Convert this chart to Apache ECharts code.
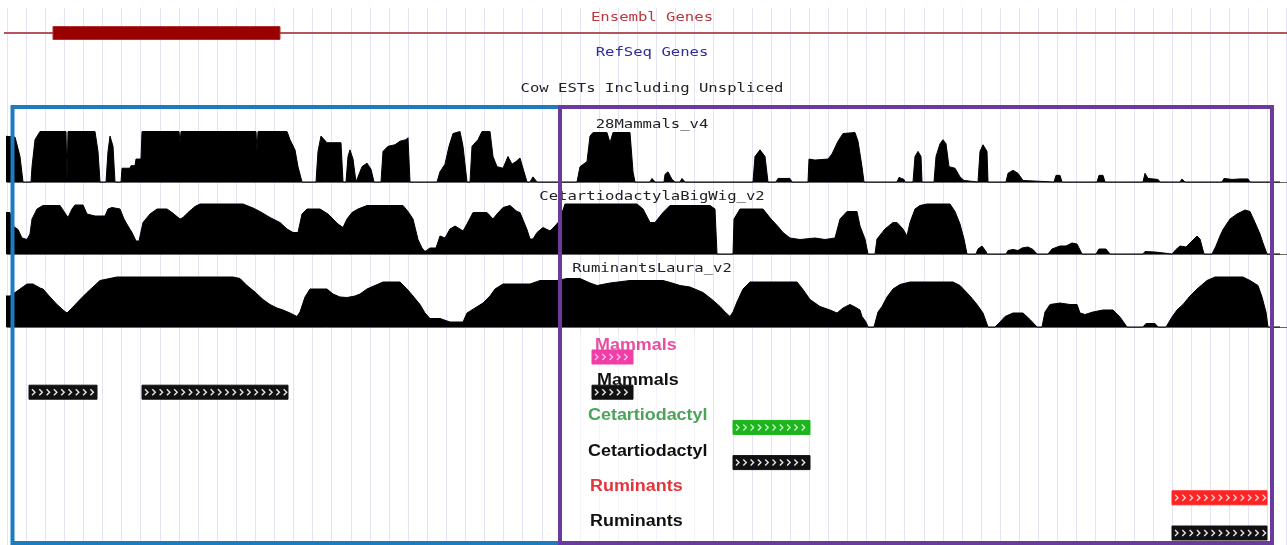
<!DOCTYPE html>
<html><head><meta charset="utf-8">
<script src="https://cdn.jsdelivr.net/npm/echarts@6.0.0/dist/echarts.min.js"></script>
<style>html,body{margin:0;padding:0;background:#fff;} #c{width:1287px;height:545px;}</style>
</head><body><div id="c"></div>
<script>
// ---- data (positions on the browser's genomic axis, scores in %) ----
const topTitles = ['Ensembl Genes', 'RefSeq Genes', 'Cow ESTs Including Unspliced'];
const trackNames = ['28Mammals_v4', 'CetartiodactylaBigWig_v2', 'RuminantsLaura_v2'];

const ensemblSpan = [4, 1287];
const ensemblExons = [[53, 280]];

const mammals28 = [[4,90],[15,88],[20,50],[23,0],[31,0],[32,30],[35,83],[40,99],[66,99],[67,5],[68,99],[95,99],[98,60],[100,0],[106,0],[108,60],[110,90],[113,70],[115,0],[121,0],[122,27],[130,27],[131,32],[135,32],[136,45],[141,45],[142,99],[179,99],[180,77],[181,99],[256,99],[257,60],[258,99],[287,99],[290,83],[295,63],[298,30],[302,0],[316,0],[318,60],[321,90],[323,92],[327,77],[341,77],[343,0],[346,0],[348,50],[350,63],[353,45],[356,0],[358,0],[362,30],[367,37],[371,25],[374,0],[381,0],[383,60],[388,70],[395,73],[400,80],[406,83],[408,87],[410,0],[437,0],[440,20],[445,35],[449,70],[453,95],[460,99],[463,70],[467,0],[470,0],[472,70],[478,83],[482,99],[490,99],[493,50],[497,30],[503,27],[508,50],[512,35],[516,40],[520,47],[524,20],[527,0],[530,0],[533,10],[537,0],[542,0],[543,3],[545,0],[577,0],[580,30],[587,40],[590,90],[593,97],[607,97],[610,77],[613,97],[630,97],[633,20],[635,0],[650,0],[652,7],[655,0],[664,0],[665,15],[668,20],[672,5],[675,0],[680,0],[682,7],[685,0],[712,0],[713,3],[714,0],[753,0],[755,50],[760,63],[765,50],[768,0],[776,0],[778,7],[790,7],[792,0],[808,0],[809,45],[815,43],[828,45],[832,55],[838,80],[843,95],[855,97],[858,80],[862,30],[864,0],[897,0],[899,9],[904,5],[905,0],[913,0],[915,50],[918,60],[921,50],[922,0],[934,0],[936,50],[940,75],[943,83],[946,75],[949,30],[955,27],[960,10],[964,3],[965,0],[978,0],[980,60],[983,73],[987,60],[988,0],[1006,0],[1008,17],[1013,23],[1018,17],[1023,3],[1025,0],[1054,0],[1056,13],[1060,13],[1062,0],[1076,0],[1078,3],[1081,0],[1097,0],[1099,13],[1103,13],[1105,0],[1143,0],[1145,17],[1148,7],[1158,5],[1160,0],[1180,0],[1182,6],[1185,0],[1222,0],[1224,7],[1232,5],[1240,6],[1248,6],[1250,0],[1280,0]];

const cetartiodactyla = [[4,83],[10,83],[13,56],[18,49],[22,32],[27,29],[30,40],[32,70],[37,90],[43,97],[60,97],[64,85],[68,73],[72,90],[75,98],[83,98],[87,80],[95,76],[105,76],[108,90],[112,93],[120,90],[124,70],[128,56],[132,43],[136,26],[139,26],[143,63],[150,80],[157,90],[167,90],[172,83],[180,70],[183,73],[188,83],[195,95],[200,100],[243,100],[253,92],[260,85],[270,73],[280,63],[287,50],[293,43],[298,43],[302,80],[307,90],[320,90],[328,80],[333,70],[338,60],[343,53],[347,70],[352,83],[358,90],[367,97],[403,97],[408,85],[413,70],[418,29],[422,12],[425,5],[430,12],[436,12],[440,36],[445,32],[450,50],[455,56],[460,50],[463,46],[467,60],[473,83],[487,83],[493,70],[497,80],[503,93],[510,97],[517,85],[520,83],[527,49],[530,30],[533,30],[537,43],[543,53],[550,46],[555,56],[558,63],[560,70],[565,100],[637,100],[643,90],[650,63],[655,63],[663,83],[670,97],[710,97],[715,90],[717,0],[733,0],[734,70],[740,90],[763,90],[771,70],[778,55],[783,43],[790,32],[800,29],[815,32],[825,29],[835,32],[840,70],[847,85],[857,85],[860,56],[865,30],[868,0],[875,0],[877,30],[885,50],[893,63],[897,63],[903,50],[907,36],[910,63],[915,90],[920,97],[927,100],[950,100],[955,85],[960,60],[964,30],[967,0],[976,0],[978,10],[982,16],[986,5],[987,0],[1006,0],[1008,7],[1013,9],[1018,7],[1022,12],[1028,14],[1033,9],[1037,0],[1048,0],[1052,10],[1060,16],[1066,16],[1072,22],[1077,20],[1082,0],[1096,0],[1099,10],[1106,10],[1110,0],[1143,0],[1145,5],[1155,4],[1157,0],[1172,0],[1176,9],[1180,16],[1186,14],[1192,26],[1197,36],[1200,30],[1204,0],[1212,0],[1216,16],[1220,36],[1223,49],[1230,70],[1237,80],[1245,88],[1250,85],[1255,63],[1260,40],[1263,22],[1267,0],[1280,0]];

const ruminants = [[4,62],[10,62],[13,66],[20,76],[27,86],[33,86],[40,78],[43,76],[50,60],[57,45],[63,34],[67,28],[72,38],[80,55],[87,69],[93,80],[100,93],[117,100],[233,100],[240,97],[247,83],[255,70],[263,55],[270,45],[277,38],[283,34],[290,28],[297,21],[300,30],[305,60],[310,76],[327,76],[333,66],[340,60],[347,59],[355,62],[360,66],[367,76],[375,83],[383,90],[400,90],[407,76],[413,62],[420,45],[425,28],[430,17],[440,17],[450,10],[463,10],[467,28],[475,38],[483,48],[490,62],[495,76],[503,86],[530,86],[540,93],[557,93],[567,97],[580,97],[590,88],[597,83],[610,88],[630,93],[663,93],[672,88],[680,83],[690,80],[703,69],[712,55],[720,41],[725,30],[730,21],[733,30],[737,50],[743,76],[750,90],[797,90],[803,75],[810,55],[820,41],[830,34],[837,28],[843,38],[850,45],[855,40],[860,34],[862,21],[866,10],[868,0],[874,0],[878,30],[882,41],[887,60],[893,76],[900,85],[910,90],[953,90],[960,83],[970,62],[977,45],[983,28],[988,0],[995,0],[1000,10],[1005,21],[1013,28],[1023,28],[1030,15],[1037,0],[1042,0],[1045,30],[1050,45],[1060,48],[1070,45],[1077,45],[1080,28],[1085,25],[1093,30],[1103,34],[1113,34],[1120,20],[1127,0],[1143,0],[1146,7],[1155,7],[1158,0],[1166,0],[1172,20],[1177,34],[1183,45],[1190,62],[1197,76],[1207,93],[1215,100],[1243,100],[1250,93],[1258,83],[1262,60],[1266,30],[1268,0],[1280,0]];

const rowNames = ['Mammals', 'Mammals', 'Cetartiodactyl', 'Cetartiodactyl', 'Ruminants', 'Ruminants'];
const rowLabelStart = [595, 597, 588, 588, 590, 590];
// [row, start, end]
const featureBlocks = [[0,592,633],[1,29,97],[1,142,288],[1,592,633],[2,733,810],[3,733,810],[4,1172,1267],[5,1172,1267]];
// highlighted regions [start, end]
const highlightRegions = [[12.5, 560], [560, 1272]];

// ---- styles ----
const labelColors = ['#e84d9f', '#111111', '#4da35a', '#111111', '#e2343b', '#111111'];
const barColors = ['#f03ea6', '#111111', '#1db41d', '#111111', '#ff2424', '#111111'];
const chevColors = ['#ffc0e2', '#e6e6e6', '#c4f5c4', '#e6e6e6', '#ffd0d0', '#e6e6e6'];
const frameColors = ['#1f7bbf', '#6a3a9c'];
const titleColors = ['#b8383f', '#2e2e9a', '#222222'];

const chart = echarts.init(document.getElementById('c'), null, {renderer: 'canvas'});

const X0 = 7, X1 = 1287;
function xAx(i, extra) {
  return Object.assign({type:'value', gridIndex:i, min:X0, max:X1,
    axisLine:{show:false}, axisTick:{show:false}, axisLabel:{show:false}, splitLine:{show:false}}, extra || {});
}
const hidden = {axisLine:{show:false}, axisTick:{show:false}, axisLabel:{show:false}, splitLine:{show:false}};

const monoFont = '"DejaVu Sans Mono", monospace';
const graphics = [];
const titleYs = [18, 53, 89];
topTitles.forEach((t, i) => graphics.push({type:'text', x:652, y:titleYs[i], scaleX:1.3, z:5,
  style:{text:t, fill:titleColors[i], font:'12px ' + monoFont, align:'center', verticalAlign:'middle'}}));
const trackLabelYs = [125, 197, 269];
trackNames.forEach((t, i) => graphics.push({type:'text', x:652, y:trackLabelYs[i], scaleX:1.3, z:5,
  style:{text:t, fill:'#222', font:'12px ' + monoFont, align:'center', verticalAlign:'middle'}}));
graphics.push({type:'rect', z:1, shape:{x:563, y:333, width:150, height:208}, style:{fill:'rgba(255,255,255,0.6)'}});

function wiggle(idx, data) {
  return {type:'line', xAxisIndex:idx, yAxisIndex:idx, data:data, showSymbol:false, symbol:'none',
    clip:false, silent:true, animation:false,
    lineStyle:{color:'#000', width:1}, areaStyle:{color:'#000', opacity:1}, itemStyle:{color:'#000'}, z:3};
}

const option = {
  backgroundColor:'#ffffff',
  animation:false,
  grid:[
    {left:X0, right:0, top:8, bottom:0},
    {left:X0, right:0, top:26, height:14},
    {left:X0, right:0, top:131, height:51},
    {left:X0, right:0, top:204, height:50},
    {left:X0, right:0, top:277, height:50},
    {left:X0, right:0, top:339.4, height:176},
    {left:X0, right:0, top:107, height:436}
  ],
  xAxis:[
    xAx(0, {interval:19.1, splitLine:{show:true, lineStyle:{color:'#e4e2f4', width:1}}}),
    xAx(1),
    xAx(2, {axisLine:{show:true, onZero:false, lineStyle:{color:'#666', width:1}}}),
    xAx(3, {axisLine:{show:true, onZero:false, lineStyle:{color:'#666', width:1}}}),
    xAx(4, {axisLine:{show:true, onZero:false, lineStyle:{color:'#666', width:1}}}),
    xAx(5),
    xAx(6)
  ],
  yAxis:[
    Object.assign({type:'value', gridIndex:0, min:0, max:1}, hidden),
    Object.assign({type:'category', gridIndex:1, data:['Ensembl Genes']}, hidden),
    Object.assign({type:'value', gridIndex:2, min:0, max:100}, hidden),
    Object.assign({type:'value', gridIndex:3, min:0, max:100}, hidden),
    Object.assign({type:'value', gridIndex:4, min:0, max:100}, hidden),
    // feature rows: row index, one row per 35.2px band (last row continues below the grid)
    Object.assign({type:'value', gridIndex:5, inverse:true, min:-0.5, max:4.5}, hidden),
    Object.assign({type:'value', gridIndex:6, min:0, max:1}, hidden)
  ],
  graphic: graphics,
  series:[
    {type:'custom', name:'Ensembl Genes', xAxisIndex:1, yAxisIndex:1, clip:false, silent:true, z:3,
      data:[[0, ensemblSpan[0], ensemblSpan[1]]], encode:{x:[1,2], y:0},
      renderItem:(params, api) => {
        const yc = api.coord([api.value(1), api.value(0)])[1];
        const xs = api.coord([api.value(1), 0])[0], xe = api.coord([api.value(2), 0])[0];
        const ch = [{type:'line', shape:{x1:xs, y1:yc, x2:xe, y2:yc}, style:{stroke:'#b4545c', lineWidth:2}}];
        ensemblExons.forEach(ex => {
          const a = api.coord([ex[0], 0])[0], b = api.coord([ex[1], 0])[0];
          ch.push({type:'rect', shape:{x:a, y:yc - 6.5, width:b - a, height:13}, style:{fill:'#990000', stroke:'#b23030', lineWidth:1}});
        });
        return {type:'group', children:ch};
      }},
    wiggle(2, mammals28),
    wiggle(3, cetartiodactyla),
    wiggle(4, ruminants),
    {type:'custom', name:'features', xAxisIndex:5, yAxisIndex:5, clip:false, silent:true, z:4,
      data:featureBlocks, encode:{x:[1,2], y:0},
      renderItem:(params, api) => {
        const row = api.value(0);
        const p0 = api.coord([api.value(1), row]), p1 = api.coord([api.value(2), row]);
        const yc = p0[1], h = 14, x0 = p0[0], x1 = p1[0];
        const ch = [{type:'rect', shape:{x:x0, y:yc - h / 2, width:x1 - x0, height:h}, style:{fill:barColors[row], stroke:barColors[row], lineWidth:1}}];
        for (let cx = x0 + 3; cx + 3 < x1; cx += 7.3) {
          ch.push({type:'polyline', shape:{points:[[cx, yc - 3], [cx + 3, yc], [cx, yc + 3]]}, style:{stroke:chevColors[row], lineWidth:1.4, fill:null}});
        }
        return {type:'group', children:ch};
      }},
    {type:'custom', name:'rowLabels', xAxisIndex:5, yAxisIndex:5, clip:false, silent:true, z:5,
      data:rowLabelStart.map((x, i) => [i, x]), encode:{x:1, y:0},
      renderItem:(params, api) => {
        const row = api.value(0);
        const p = api.coord([api.value(1), row]);
        return {type:'text', x:p[0], y:p[1] - 11.5, scaleX:1.12,
          style:{text:rowNames[row], fill:labelColors[row], font:'bold 16px "Liberation Sans", Arial, sans-serif', align:'left', verticalAlign:'middle'}};
      }},
    {type:'custom', name:'highlights', xAxisIndex:6, yAxisIndex:6, clip:false, silent:true, z:10,
      data:highlightRegions.map((r, i) => [r[0], r[1], i]), encode:{x:[0,1]},
      renderItem:(params, api) => {
        const cs = params.coordSys;
        const a = api.coord([api.value(0), 0])[0], b = api.coord([api.value(1), 0])[0];
        return {type:'rect', shape:{x:a, y:cs.y, width:b - a, height:cs.height},
          style:{fill:null, stroke:frameColors[api.value(2)], lineWidth:4}};
      }}
  ]
};
chart.setOption(option);
</script></body></html>
